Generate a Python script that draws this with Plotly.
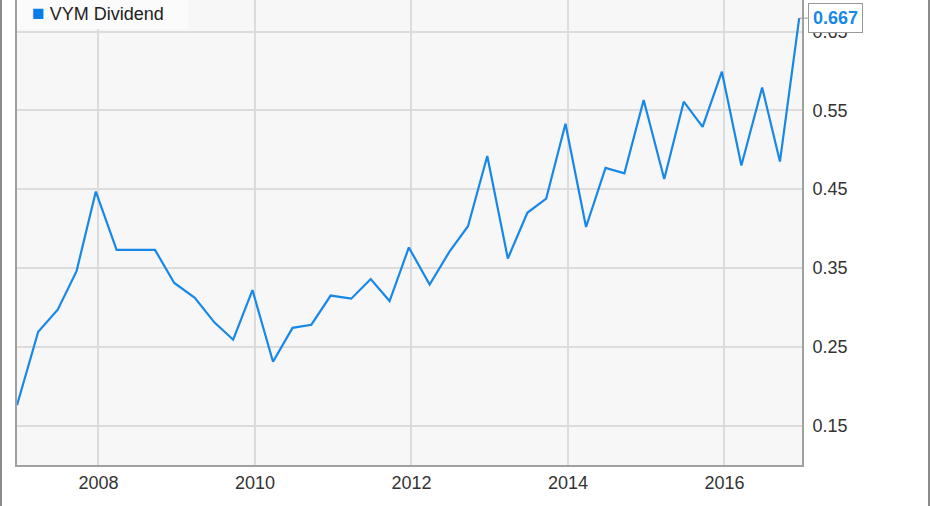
import plotly.graph_objects as go

dates = [
    "2006-12-17",
    "2007-03-26", "2007-06-25", "2007-09-21", "2007-12-20",
    "2008-03-26", "2008-06-25", "2008-09-21", "2008-12-20",
    "2009-03-26", "2009-06-25", "2009-09-21", "2009-12-20",
    "2010-03-26", "2010-06-25", "2010-09-21", "2010-12-20",
    "2011-03-26", "2011-06-25", "2011-09-21", "2011-12-20",
    "2012-03-26", "2012-06-25", "2012-09-21", "2012-12-20",
    "2013-03-26", "2013-06-25", "2013-09-21", "2013-12-20",
    "2014-03-26", "2014-06-25", "2014-09-21", "2014-12-20",
    "2015-03-26", "2015-06-25", "2015-09-21", "2015-12-20",
    "2016-03-20", "2016-06-25", "2016-09-16", "2016-12-15",
]
dividends = [
    0.176,
    0.269, 0.297, 0.346, 0.447,
    0.373, 0.373, 0.373, 0.331,
    0.312, 0.281, 0.259, 0.322,
    0.231, 0.274, 0.278, 0.315,
    0.311, 0.336, 0.308, 0.376,
    0.329, 0.370, 0.403, 0.492,
    0.362, 0.420, 0.438, 0.533,
    0.402, 0.477, 0.470, 0.563,
    0.463, 0.561, 0.529, 0.599,
    0.480, 0.579, 0.485, 0.667,
]
series_name = "VYM Dividend"
y_ticks = [0.15, 0.25, 0.35, 0.45, 0.55, 0.65]
x_ticks = ["2008-01-01", "2010-01-01", "2012-01-01", "2014-01-01", "2016-01-01"]
x_tick_labels = ["2008", "2010", "2012", "2014", "2016"]

LINE = "rgb(24,136,232)"
SQUARE = "rgb(10,125,230)"
FONT = "Liberation Sans, Arial, sans-serif"

fig = go.Figure()
fig.add_trace(go.Scatter(
    x=dates, y=dividends, mode="lines", name=series_name,
    line=dict(color=LINE, width=2.2), showlegend=False,
))

W, H = 931, 506
L, R, T, B = 17, 129, 0, 41
pw = W - L - R
ph = H - T - B

def px_to_paper_x(px):
    return (px - L) / pw

fig.update_layout(
    width=W, height=H,
    margin=dict(l=L, r=R, t=T, b=B, autoexpand=False),
    paper_bgcolor="white",
    plot_bgcolor="#f7f7f7",
    font=dict(family=FONT, size=18, color="#333333"),
    xaxis=dict(
        type="date", range=["2006-12-17", "2016-12-28"],
        tickvals=x_ticks, ticktext=x_tick_labels,
        showgrid=True, gridcolor="#dcdcdc", gridwidth=2,
        showline=True, linecolor="#a0a0a0", linewidth=2,
        ticks="", zeroline=False, fixedrange=True,
    ),
    yaxis=dict(
        side="right", range=[0.100, 0.690],
        tickvals=y_ticks, ticktext=[f"{v:.2f}" for v in y_ticks],
        showgrid=True, gridcolor="#dcdcdc", gridwidth=2,
        showline=True, linecolor="#a0a0a0", linewidth=2, mirror=True,
        ticks="outside", ticklen=5, tickcolor="rgba(0,0,0,0)",
        zeroline=False, fixedrange=True,
    ),
    shapes=[
        dict(type="rect", xref="paper", yref="paper",
             x0=px_to_paper_x(17), x1=px_to_paper_x(188),
             y0=1 - 29 / ph, y1=1.0,
             fillcolor="#fbfbfb", line=dict(width=0), layer="above"),
        dict(type="line", xref="paper", yref="paper",
             x0=px_to_paper_x(1), x1=px_to_paper_x(1),
             y0=-B / ph, y1=1.0,
             line=dict(color="#8a8a8a", width=2)),
        dict(type="line", xref="paper", yref="paper",
             x0=px_to_paper_x(929), x1=px_to_paper_x(929),
             y0=-B / ph, y1=1.0,
             line=dict(color="#8a8a8a", width=2)),
    ],
    annotations=[
        dict(xref="paper", yref="paper",
             x=px_to_paper_x(30), y=1 - 13 / ph,
             xanchor="left", yanchor="middle", showarrow=False,
             text=f'<span style="color:{SQUARE};font-size:21px">■</span> {series_name}',
             font=dict(size=18, color="#222222")),
        dict(x=dates[-1], y=dividends[-1], xref="x", yref="y",
             text=f"<b>{dividends[-1]:.3f}</b>",
             showarrow=True, arrowhead=0, arrowwidth=1, arrowcolor="#999999",
             ax=9, ay=0, xanchor="left", yanchor="middle",
             bgcolor="white", bordercolor="#999999", borderwidth=1, borderpad=4,
             font=dict(size=18, color=LINE)),
    ],
)

fig.write_html(
    "out.html",
    config={"displayModeBar": False},
    post_script="document.body.style.margin='0';document.body.style.overflow='hidden';",
)
